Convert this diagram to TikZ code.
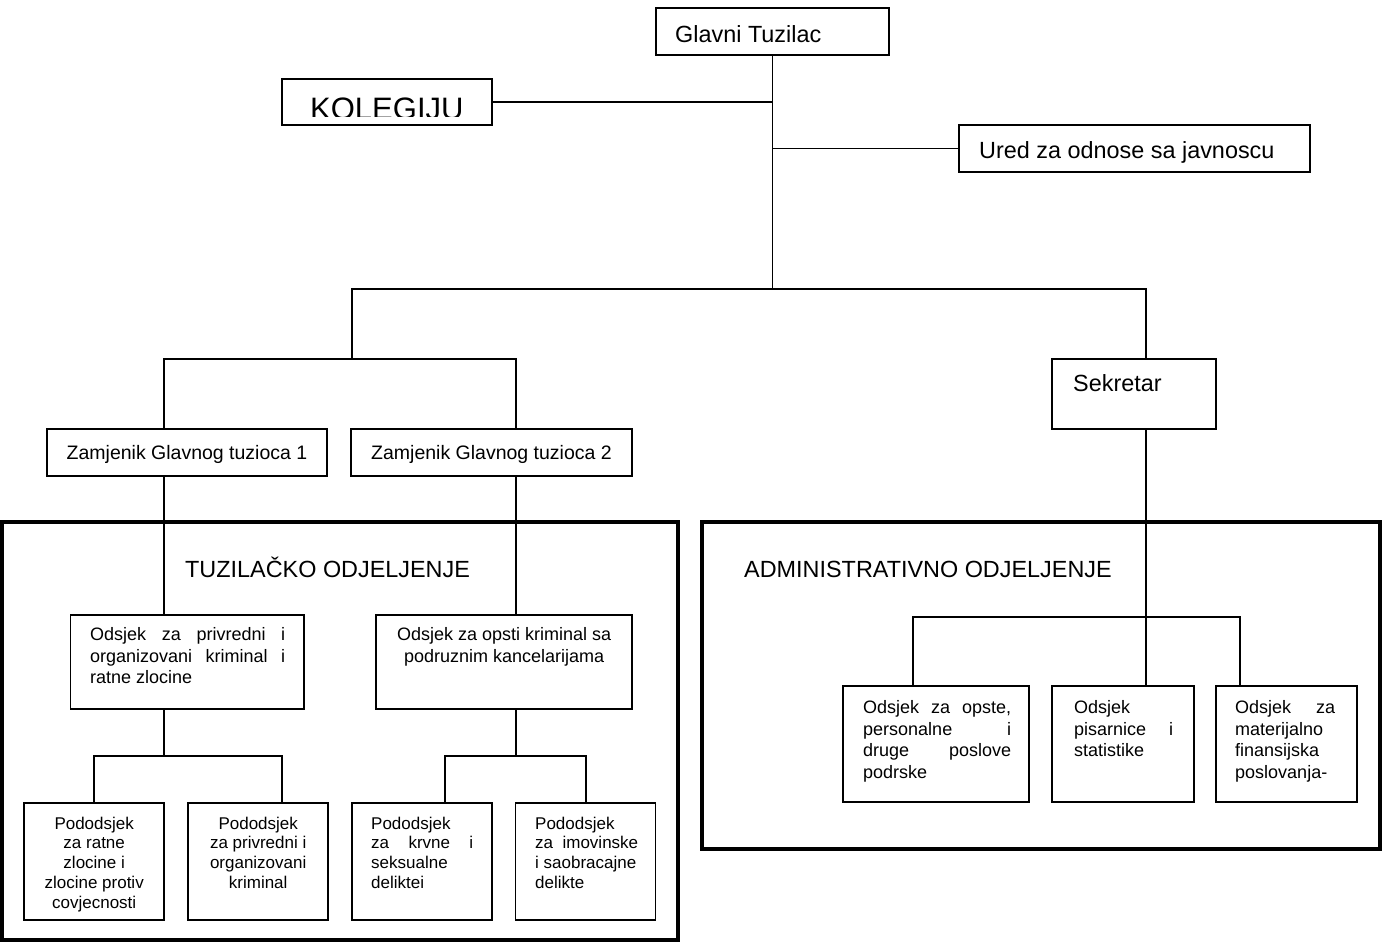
\documentclass[tikz,border=0pt]{standalone}
\usepackage{fontspec}
\setmainfont{Liberation Sans}
\begin{document}
\begin{tikzpicture}[x=1pt,y=-1pt]
\tikzset{
  box/.style={draw, line width=1.6pt, inner sep=0pt, outer sep=0pt},
  dept/.style={draw, line width=3.6pt, inner sep=0pt, outer sep=0pt},
  wire/.style={line width=1.6pt},
  lbl/.style={inner sep=0pt, anchor=base west},
  fbig/.style={font=\fontsize{23.4}{27}\selectfont},
  fzam/.style={font=\fontsize{19.5}{23}\selectfont},
  fods/.style={font=\fontsize{18}{21.5}\selectfont},
  fpod/.style={font=\fontsize{17}{19.8}\selectfont},
}
\useasboundingbox (0,0) rectangle (1383,945);

% department frames
\node[dept, minimum width=676, minimum height=418] (tuz) at (340,731) {};
\node[dept, minimum width=678, minimum height=327] (adm) at (1041,685.5) {};

% top level
\node[box, minimum width=233, minimum height=47] (glavni) at (772.5,31.5) {};
\node[box, minimum width=210, minimum height=46] (kolegij) at (387,102) {};
\node[box, minimum width=351, minimum height=47] (ured) at (1134.5,148.5) {};
\node[box, minimum width=164, minimum height=70] (sekretar) at (1134,394) {};
\node[box, minimum width=280, minimum height=47] (zam1) at (187,452.5) {};
\node[box, minimum width=281, minimum height=47] (zam2) at (491.5,452.5) {};

% prosecution sections
\node[box, minimum width=233.5, minimum height=94] (ods1) at (187.25,662) {};
\node[box, minimum width=256, minimum height=94] (ods2) at (504,662) {};
\node[box, minimum width=140, minimum height=117] (podA) at (94,861.5) {};
\node[box, minimum width=140, minimum height=117] (podB) at (258,861.5) {};
\node[box, minimum width=140, minimum height=117] (podC) at (422,861.5) {};
\node[box, minimum width=140, minimum height=117] (podD) at (585.5,861.5) {};

% administrative sections
\node[box, minimum width=186, minimum height=116] (adm1) at (936,744) {};
\node[box, minimum width=142, minimum height=116] (adm2) at (1123,744) {};
\node[box, minimum width=141, minimum height=116] (adm3) at (1286.5,744) {};

% junction points of the connectors
\coordinate (jTop) at (772.5,289);
\coordinate (jZam) at (352,289);
\coordinate (jSek) at (1146,289);
\coordinate (jZamB) at (352,359);
\coordinate (jZ1) at (164,359);
\coordinate (jZ2) at (516,359);
\coordinate (jAdm) at (1146,617);
\coordinate (jAdmL) at (913,617);
\coordinate (jAdmR) at (1240,617);
\coordinate (jO1) at (164,756);
\coordinate (jO1L) at (94,756);
\coordinate (jO1R) at (282,756);
\coordinate (jO2) at (516,756);
\coordinate (jO2L) at (445,756);
\coordinate (jO2R) at (586,756);

% connectors
\draw[wire] (glavni.south) -- (jTop);
\draw[wire] (kolegij.east) -- (kolegij.east -| glavni.south);
\draw[wire] (ured.west) -- (ured.west -| glavni.south);
\draw[wire] (jZamB) -- (jZam) -- (jSek) -- (jSek |- sekretar.north);
\draw[wire] (jZ1 |- zam1.north) -- (jZ1) -- (jZ2) -- (jZ2 |- zam2.north);
\draw[wire] (jZ1 |- zam1.south) -- (jZ1 |- ods1.north);
\draw[wire] (jZ2 |- zam2.south) -- (jZ2 |- ods2.north);
\draw[wire] (jSek |- sekretar.south) -- (jAdm);
\draw[wire] (jAdmL |- adm1.north) -- (jAdmL) -- (jAdmR) -- (jAdmR |- adm3.north);
\draw[wire] (jAdm) -- (jAdm |- adm2.north);
\draw[wire] (jO1 |- ods1.south) -- (jO1);
\draw[wire] (jO1L |- podA.north) -- (jO1L) -- (jO1R) -- (jO1R |- podB.north);
\draw[wire] (jO2 |- ods2.south) -- (jO2);
\draw[wire] (jO2L |- podC.north) -- (jO2L) -- (jO2R) -- (jO2R |- podD.north);

% texts
\node[lbl, fbig] (tGlavni) at (675,42) {Glavni Tuzilac};
\begin{scope}
  \clip (283,80) rectangle (491,116.5);
  \node[lbl, font=\fontsize{31}{36}\selectfont] (tKolegij) at (310,119) {KOLEGIJU};
\end{scope}
\node[lbl, fbig] (tUred) at (979,158) {Ured za odnose sa javnoscu};
\node[lbl, fbig] (tSek) at (1073,391) {Sekretar};
\node[fzam, inner sep=0pt, anchor=base] (tZam1) at (187,459) {Zamjenik Glavnog tuzioca 1};
\node[fzam, inner sep=0pt, anchor=base] (tZam2) at (491.5,459) {Zamjenik Glavnog tuzioca 2};
\node[lbl, fbig] (tTuz) at (185,577) {TUZILAČKO ODJELJENJE};
\node[lbl, fbig] (tAdm) at (744,577) {ADMINISTRATIVNO ODJELJENJE};

\node[lbl, fods] (tOds1) at (90,640.5) {\parbox[t]{195pt}{%
  Odsjek\hfill za\hfill privredni\hfill i\\
  organizovani\hfill kriminal\hfill i\\
  ratne zlocine}};
\node[lbl, fods] (tOds2) at (384,640.5) {\parbox[t]{240pt}{\centering
  Odsjek za opsti kriminal sa\\
  podruznim kancelarijama}};

\node[lbl, fpod] (tPodA) at (29,829) {\parbox[t]{130pt}{\centering
  Pododsjek\\ za ratne\\ zlocine i\\ zlocine protiv\\ covjecnosti}};
\node[lbl, fpod] (tPodB) at (193,829) {\parbox[t]{130pt}{\centering
  Pododsjek\\ za privredni i\\ organizovani\\ kriminal}};
\node[lbl, fpod] (tPodC) at (371,829) {\parbox[t]{102pt}{%
  Pododsjek\\ za\hfill krvne\hfill i\\ seksualne\\ deliktei}};
\node[lbl, fpod] (tPodD) at (535,829) {\parbox[t]{104pt}{%
  Pododsjek\\ za\ \ imovinske\\ i saobracajne\\ delikte}};

\node[lbl, fods] (tAdm1) at (863,713.5) {\parbox[t]{148pt}{%
  Odsjek\hfill za\hfill opste,\\
  personalne\hfill i\\
  druge\hfill poslove\\
  podrske}};
\node[lbl, fods] (tAdm2) at (1074,713.5) {\parbox[t]{99pt}{%
  Odsjek\\
  pisarnice\hfill i\\
  statistike}};
\node[lbl, fods] (tAdm3) at (1235,713.5) {\parbox[t]{100pt}{%
  Odsjek\hfill za\\
  materijalno\\
  finansijska\\
  poslovanja-}};
\end{tikzpicture}
\end{document}
